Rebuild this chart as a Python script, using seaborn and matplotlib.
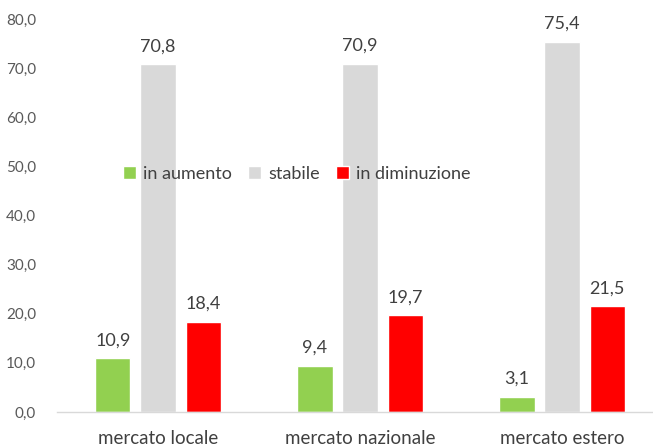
import matplotlib
matplotlib.use("Agg")
import matplotlib.pyplot as plt
import seaborn as sns
import pandas as pd

categories = ["mercato locale", "mercato nazionale", "mercato estero"]
series = ["in aumento", "stabile", "in diminuzione"]
in_aumento = [10.9, 9.4, 3.1]
stabile = [70.8, 70.9, 75.4]
in_diminuzione = [18.4, 19.7, 21.5]
yticks = [0, 10, 20, 30, 40, 50, 60, 70, 80]
colors = ["#92D050", "#D9D9D9", "#FF0000"]

rows = []
for s, vals in zip(series, [in_aumento, stabile, in_diminuzione]):
    for c, v in zip(categories, vals):
        rows.append({"cat": c, "serie": s, "val": v})
df = pd.DataFrame(rows)

sns.set_theme(style="white")
plt.rcParams['font.family'] = ['Lato', 'DejaVu Sans']

fig = plt.figure(figsize=(6.53, 4.48), dpi=100)
ax = fig.add_axes([57/653, 1-412/448, 596/653, (412-19)/448])
sns.barplot(data=df, x="cat", y="val", hue="serie", order=categories,
            hue_order=series, palette=colors, width=0.67, gap=0.22,
            saturation=1, ax=ax, legend=True)

for cont in ax.containers:
    ax.bar_label(cont, labels=[f"{b.get_height():.1f}".replace(".", ",") for b in cont],
                 padding=7, fontsize=13, color="#404040")

ax.set_ylim(0, 80)
ax.set_xlim(-0.5, 2.45)
ax.set_yticks(yticks)
ax.set_yticklabels([f"{t:.1f}".replace(".", ",") for t in yticks])
ax.tick_params(axis="y", length=0, pad=15, labelsize=11, labelcolor="#595959")
ax.tick_params(axis="x", length=0, pad=13, labelsize=13.5, labelcolor="#404040")
ax.set_xlabel("")
ax.set_ylabel("")
for sp in ["top", "right", "left"]:
    ax.spines[sp].set_visible(False)
ax.spines["bottom"].set_color("#D9D9D9")
ax.spines["bottom"].set_linewidth(1)
ax.grid(False)

leg = ax.legend(loc="center", bbox_to_anchor=(297/653, 1-174/448),
                bbox_transform=fig.transFigure, ncol=3, frameon=False,
                handlelength=0.7, handleheight=0.7, handletextpad=0.4,
                columnspacing=0.9, fontsize=13)
for t in leg.get_texts():
    t.set_color("#404040")

fig.savefig("out.png", dpi=100)
